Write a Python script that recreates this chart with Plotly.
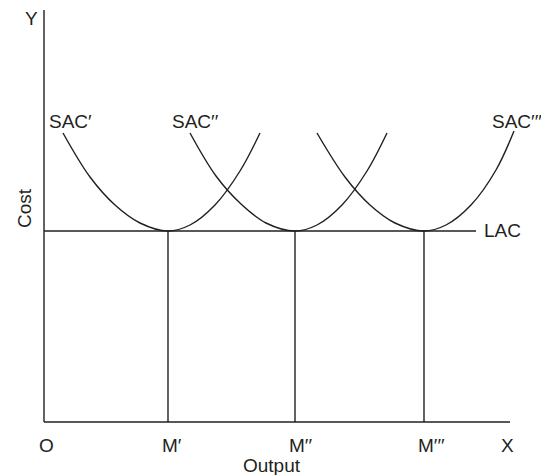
import plotly.graph_objects as go

# Output (x) and cost (y) units; origin O at the axes corner
INK = "#231f20"

Y_AXIS_X = [0, 0]
Y_AXIS_Y = [0, 412]
X_AXIS_X = [0, 466]
X_AXIS_Y = [0, 0]

LAC_X = [0, 432]
LAC_Y = [191, 191]

# plant sizes where each SAC touches LAC
M_X = [124, 251, 380]
M_LABELS = ["M\u2032", "M\u2032\u2032", "M\u2032\u2032\u2032"]

SAC1_X = [19, 46, 71, 96, 124, 146, 171, 196, 216]
SAC1_Y = [289, 245, 217, 199, 191, 197, 217, 251, 289]
SAC2_X = [146, 172, 197, 222, 251, 273, 298, 323, 343]
SAC2_Y = [289, 246, 218, 199, 191, 197, 217, 251, 289]
SAC3_X = [273, 301, 326, 351, 380, 402, 427, 452, 470]
SAC3_Y = [289, 245, 217, 199, 191, 197, 217, 252, 291]

SAC_LABELS = ["SAC\u2032", "SAC\u2032\u2032", "SAC\u2032\u2032\u2032"]
SAC_LABEL_X = [26, 151, 446]


def line(x, y, shape="linear"):
    return go.Scatter(
        x=x, y=y, mode="lines", line=dict(color=INK, width=1.4, shape=shape),
        hoverinfo="skip", showlegend=False,
    )


fig = go.Figure()
fig.add_trace(line(Y_AXIS_X, Y_AXIS_Y))
fig.add_trace(line(X_AXIS_X, X_AXIS_Y))
fig.add_trace(line(LAC_X, LAC_Y))
for mx in M_X:
    fig.add_trace(line([mx, mx], [0, LAC_Y[0]]))
for xs, ys in [(SAC1_X, SAC1_Y), (SAC2_X, SAC2_Y), (SAC3_X, SAC3_Y)]:
    fig.add_trace(line(xs, ys, shape="spline"))

font = dict(family="Liberation Sans, Arial, sans-serif", size=19, color=INK)


def label(text, x, y, xanchor="center", angle=0):
    fig.add_annotation(
        x=x, y=y, text=text, showarrow=False, xanchor=xanchor, yanchor="middle",
        font=font, textangle=angle,
    )


for txt, lx in zip(SAC_LABELS, SAC_LABEL_X):
    label(txt, lx, 301, xanchor="left" if lx > 400 else "center")
label("LAC", 438, 192, xanchor="left")
label("Y", -13, 404)
label("Cost", -20, 214, angle=-90)
label("O", 2, -23)
for txt, mx in zip(M_LABELS, M_X):
    label(txt, mx - 8, -23, xanchor="left")
label("X", 463, -23)
label("Output", 228, -43)

# ranges offset by 8 px to cancel the page's default body margin
fig.update_layout(
    width=549,
    height=475,
    margin=dict(l=0, r=0, t=0, b=0),
    paper_bgcolor="white",
    plot_bgcolor="white",
    xaxis=dict(range=[-36, 513], visible=False, fixedrange=True),
    yaxis=dict(range=[-61, 414], visible=False, fixedrange=True),
)
fig.write_html("out.html")
